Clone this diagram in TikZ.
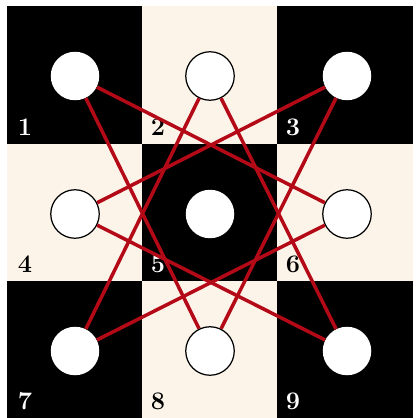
\documentclass[tikz,border=0pt]{standalone}
\usepackage{amsmath}
\definecolor{kncream}{RGB}{252,244,232}
\definecolor{knred}{RGB}{180,10,24}
\usetikzlibrary{positioning}
\begin{document}
\begin{tikzpicture}[x=0.02cm,y=-0.02cm,
  sq/.style={inner sep=0pt,outer sep=0pt},
  spot/.style={circle,fill=white,minimum size=0.97cm,inner sep=0pt},
  spotb/.style={spot,draw=black,line width=0.7pt},
  num/.style={font=\bfseries\Large,inner sep=0pt},
  hop/.style={knred,line width=2pt}]
  \useasboundingbox (0,0) rectangle (416,418);
  \fill[white] (0,0) rectangle (416,418);
  % board
  \fill[black] (7,6) rectangle (413,418);
  \fill[kncream] (142,6) rectangle (277,144);
  \fill[kncream] (7,144) rectangle (142,281);
  \fill[kncream] (277,144) rectangle (413,281);
  \fill[kncream] (142,281) rectangle (277,418);
  % cell numbers
  \node[num,white] (l1) at (25,127) {1};
  \node[num,black] (l2) at (158,127) {2};
  \node[num,white] (l3) at (293,127) {3};
  \node[num,black] (l4) at (25,264) {4};
  \node[num,white] (l5) at (158,264) {5};
  \node[num,black] (l6) at (293,264) {6};
  \node[num,white] (l7) at (25,401) {7};
  \node[num,black] (l8) at (158,401) {8};
  \node[num,white] (l9) at (293,401) {9};
  % spots
  \node[spot] (s1) at (75,76) {};
  \node[spotb] (s2) at (210,76) {};
  \node[spot] (s3) at (347,76) {};
  \node[spotb] (s4) at (75,214) {};
  \node[spot] (s5) at (210,214) {};
  \node[spotb] (s6) at (347,214) {};
  \node[spot] (s7) at (75,351) {};
  \node[spotb] (s8) at (210,351) {};
  \node[spot] (s9) at (347,351) {};
  % knight moves
  \draw[hop] (s1) -- (s6);
  \draw[hop] (s1) -- (s8);
  \draw[hop] (s2) -- (s7);
  \draw[hop] (s2) -- (s9);
  \draw[hop] (s3) -- (s4);
  \draw[hop] (s3) -- (s8);
  \draw[hop] (s4) -- (s9);
  \draw[hop] (s6) -- (s7);
\end{tikzpicture}
\end{document}
